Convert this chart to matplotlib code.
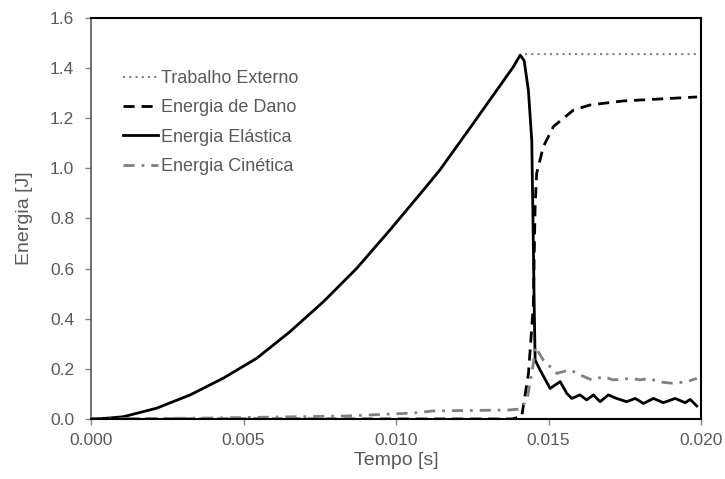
import matplotlib.pyplot as plt

plt.rcParams['font.family'] = ['Liberation Sans', 'DejaVu Sans']

# Energia Elastica
t_el = [0.0, 0.00051, 0.00106, 0.00215, 0.00325, 0.00434, 0.00543, 0.00652, 0.00762,
        0.00871, 0.0098, 0.0109, 0.01144, 0.0125, 0.01385,
        0.01407, 0.01420, 0.01434, 0.01445, 0.0145, 0.01453, 0.01456,
        0.01472, 0.01505, 0.01538, 0.0156, 0.01576, 0.01603, 0.01625, 0.01647, 0.01669,
        0.01696, 0.01723, 0.01756, 0.01784, 0.01811, 0.01844, 0.01876, 0.01915, 0.01948,
        0.01964, 0.01986]
e_el = [0.0, 0.003, 0.009, 0.043, 0.096, 0.163, 0.242, 0.348, 0.468,
        0.601, 0.754, 0.914, 0.994, 1.174, 1.406,
        1.452, 1.43, 1.31, 1.11, 0.71, 0.45, 0.235,
        0.196, 0.122, 0.149, 0.102, 0.082, 0.096, 0.076, 0.096, 0.069,
        0.096, 0.082, 0.069, 0.082, 0.062, 0.082, 0.065, 0.082, 0.065,
        0.078, 0.052]

# Trabalho Externo
t_ext = [0.0, 0.00051, 0.00106, 0.00215, 0.00325, 0.00434, 0.00543, 0.00652, 0.00762,
         0.00871, 0.0098, 0.0109, 0.01144, 0.0125, 0.01385,
         0.01407, 0.0142, 0.0199]
e_ext = [0.0, 0.003, 0.009, 0.043, 0.096, 0.163, 0.242, 0.348, 0.468,
         0.601, 0.754, 0.914, 0.994, 1.174, 1.406,
         1.452, 1.456, 1.456]

# Energia de Dano
t_dan = [0.0, 0.0138, 0.01412, 0.01434, 0.0145, 0.01456, 0.01461, 0.01483, 0.01516,
         0.01582, 0.01636, 0.01744, 0.01987]
e_dan = [0.0, 0.0, 0.01, 0.18, 0.45, 0.85, 0.98, 1.087, 1.167,
         1.233, 1.253, 1.269, 1.285]

# Energia Cinetica
t_cin = [0.0, 0.004, 0.0084, 0.0106, 0.0112, 0.0137, 0.0141, 0.0143, 0.0145, 0.01456,
         0.01483, 0.01527, 0.0157, 0.01603, 0.01641, 0.0168, 0.01712, 0.01773, 0.018,
         0.01833, 0.01855, 0.01909, 0.01953, 0.01986]
e_cin = [0.0, 0.004, 0.012, 0.024, 0.032, 0.036, 0.04, 0.08, 0.22, 0.288,
         0.235, 0.182, 0.196, 0.176, 0.156, 0.169, 0.156, 0.162, 0.156,
         0.162, 0.149, 0.142, 0.149, 0.162]

gray_txt = '#595959'

fig = plt.figure(figsize=(7.25, 4.79), dpi=100)
ax = fig.add_axes([0.1255, 0.1253, 0.8415, 0.8371])

ax.plot(t_ext, e_ext, color='#808080', lw=1.5, linestyle=(0, (1, 2)), label='Trabalho Externo')
ax.plot(t_dan, e_dan, color='black', lw=2, linestyle=(0, (4, 2.5)), label='Energia de Dano')
ax.plot(t_el, e_el, color='black', lw=2, label='Energia Elástica')
ax.plot(t_cin, e_cin, color='#808080', lw=2, linestyle=(0, (4, 2.5, 1, 2.5)), label='Energia Cinética')

ax.set_xlim(0, 0.02)
ax.set_ylim(0, 1.6)
ax.set_xticks([0, 0.005, 0.010, 0.015, 0.020])
ax.set_xticklabels(['0.000', '0.005', '0.010', '0.015', '0.020'])
ax.set_yticks([0, 0.2, 0.4, 0.6, 0.8, 1.0, 1.2, 1.4, 1.6])
ax.set_yticklabels(['0.0', '0.2', '0.4', '0.6', '0.8', '1.0', '1.2', '1.4', '1.6'])
ax.tick_params(direction='out', length=4, width=1, color='#868686',
               labelcolor=gray_txt, labelsize=12.5)
ax.tick_params(axis='y', pad=8)
ax.tick_params(axis='x', pad=6)

ax.set_xlabel('Tempo [s]', color=gray_txt, fontsize=14, labelpad=3)
ax.set_ylabel('Energia [J]', color=gray_txt, fontsize=14, labelpad=12)

for side in ['top', 'right', 'bottom']:
    ax.spines[side].set_color('black')
    ax.spines[side].set_linewidth(1.5)
ax.spines['left'].set_color('#595959')
ax.spines['left'].set_linewidth(1.2)

leg = ax.legend(loc='upper left', bbox_to_anchor=(0.052, 0.87), frameon=False,
                borderaxespad=0, borderpad=0, fontsize=13, handlelength=1.95,
                handletextpad=0.15, labelspacing=0.68)
for txt in leg.get_texts():
    txt.set_color(gray_txt)

fig.savefig('out.png')
